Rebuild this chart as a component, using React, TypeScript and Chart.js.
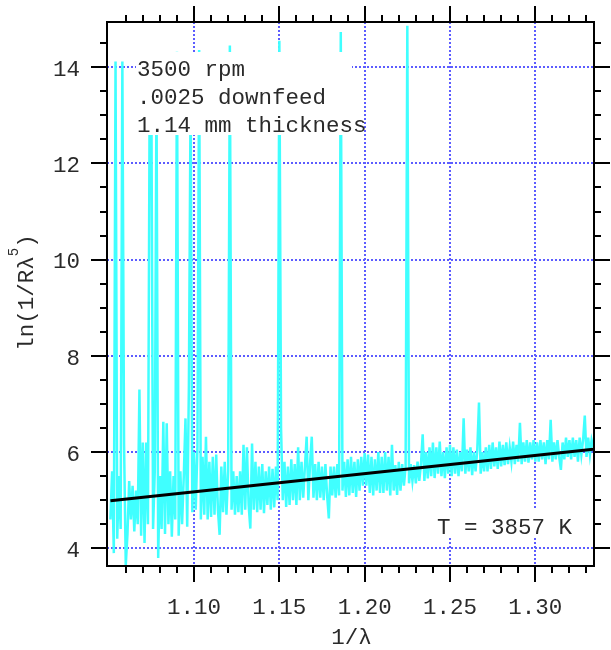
import React, { useEffect, useRef } from 'react';
import { Chart, registerables } from 'chart.js';

Chart.register(...registerables);

// ---- data ----
const X_START = 1.051;
const X_STEP = 0.001;
const signal: number[] = [
  4.6, 5.6, 3.9, 14.12, 4.2, 5.5, 4.4, 14.12, 6.15, 3.65,
  4.3, 5.4, 4.6, 5.3, 4.35, 5.2, 4.5, 7.3, 4.26, 6.2,
  4.11, 6.2, 4.5, 13.5, 13.5, 4.4, 5.6, 13.5, 3.8, 5.5,
  4.4, 6.63, 4.3, 6.6, 4.5, 5.6, 4.24, 5.5, 4.6, 14.32,
  4.26, 5.6, 4.5, 5.5, 6.7, 4.45, 7.4, 13.5, 4.75, 6.0,
  4.8, 6.1, 14.36, 4.6, 5.9, 4.7, 6.32, 4.6, 5.8, 4.65,
  5.9, 4.7, 5.95, 4.8, 4.28, 5.7, 4.75, 5.8, 4.7, 5.6,
  14.45, 4.8, 5.6, 4.7, 5.5, 4.75, 5.6, 4.7, 6.15, 4.8,
  6.1, 4.9, 4.41, 6.18, 4.8, 5.8, 4.75, 5.7, 4.8, 5.75,
  4.73, 5.6, 4.9, 5.7, 4.8, 5.65, 4.85, 5.7, 5.0, 14.55,
  6.5, 5.0, 5.8, 4.86, 5.7, 4.9, 5.85, 5.0, 5.75, 4.9,
  6.1, 5.0, 5.8, 5.05, 5.7, 6.32, 5.0, 5.75, 6.32, 5.05,
  5.75, 5.0, 5.8, 5.05, 5.7, 5.0, 5.75, 5.1, 4.62, 5.7,
  5.1, 5.7, 5.05, 5.75, 5.1, 14.73, 5.2, 5.8, 5.07, 5.85,
  5.1, 5.9, 5.15, 5.8, 5.07, 5.85, 5.2, 5.9, 5.3, 5.98,
  5.3, 5.95, 5.15, 5.9, 5.1, 5.85, 5.2, 6.0, 5.15, 5.9,
  5.15, 6.0, 5.2, 5.9, 5.1, 6.15, 5.2, 5.73, 5.11, 5.8,
  5.2, 5.75, 5.3, 5.7, 14.86, 5.35, 5.75, 5.4, 5.73, 5.35,
  5.8, 5.4, 5.75, 6.37, 5.4, 6.0, 5.45, 6.1, 5.5, 6.2,
  5.46, 6.1, 5.55, 6.22, 5.5, 6.0, 5.46, 6.1, 5.55, 6.15,
  5.5, 6.1, 5.55, 6.05, 5.5, 6.0, 5.6, 6.7, 5.55, 6.05,
  5.6, 6.1, 5.52, 6.0, 5.6, 6.05, 7.03, 5.55, 6.0, 5.6,
  6.1, 5.6, 6.15, 5.65, 6.2, 5.7, 6.1, 5.65, 6.22, 5.7,
  6.15, 5.73, 6.2, 5.75, 6.1, 5.8, 6.22, 5.75, 6.15, 5.8,
  6.61, 5.75, 6.2, 5.8, 6.25, 5.78, 6.2, 5.85, 6.25, 5.8,
  6.2, 5.8, 6.25, 5.85, 6.2, 5.75, 6.25, 5.85, 6.67, 5.8,
  6.2, 5.85, 6.25, 5.9, 5.63, 6.2, 5.85, 6.3, 5.9, 6.25,
  5.85, 6.3, 5.9, 6.25, 5.8, 6.3, 5.95, 6.25, 6.76, 5.9,
  6.3, 5.95, 6.25, 6.1,
];
const fitX = [1.051, 1.334];
const fitY = [4.99, 6.06];

const X_MIN = 1.049;
const X_MAX = 1.3344;
const Y_MIN = 3.632;
const Y_MAX = 14.94;

const xMajorTicks = [1.1, 1.15, 1.2, 1.25, 1.3];
const xTickLabels = ['1.10', '1.15', '1.20', '1.25', '1.30'];
const xMinorTicks = [1.06, 1.07, 1.08, 1.09, 1.11, 1.12, 1.13, 1.14, 1.16, 1.17, 1.18, 1.19,
  1.21, 1.22, 1.23, 1.24, 1.26, 1.27, 1.28, 1.29, 1.31, 1.32, 1.33];
const yMajorTicks = [4, 6, 8, 10, 12, 14];
const yTickLabels = ['4', '6', '8', '10', '12', '14'];
const yMinorTicks = [4.5, 5, 5.5, 6.5, 7, 7.5, 8.5, 9, 9.5, 10.5, 11, 11.5, 12.5, 13, 13.5, 14.5];

const notes = ['3500 rpm', '.0025 downfeed', '1.14 mm thickness'];
const tempNote = 'T = 3857 K';
const xTitle = '1/λ';
const yTitleMain = 'ln(1/Rλ';
const yTitleSup = '5';
const yTitleEnd = ')';

const FONT = '"Liberation Mono", "DejaVu Sans Mono", monospace';
const GRID_COLOR = '#5c5cff';
const CYAN = '#40ffff';
const TEXT_COLOR = '#2a2a2a';

const decor = {
  id: 'decor',
  beforeDatasetsDraw(chart: any) {
    const { ctx, chartArea: a, scales } = chart;
    const xs = scales.x, ys = scales.y;
    ctx.save();
    ctx.strokeStyle = GRID_COLOR;
    ctx.lineWidth = 2;
    ctx.setLineDash([2, 2]);
    ctx.beginPath();
    xMajorTicks.forEach((v) => {
      const px = Math.round(xs.getPixelForValue(v));
      ctx.moveTo(px, a.top);
      ctx.lineTo(px, a.bottom);
    });
    yMajorTicks.forEach((v) => {
      const py = Math.round(ys.getPixelForValue(v));
      ctx.moveTo(a.left, py);
      ctx.lineTo(a.right, py);
    });
    ctx.stroke();
    ctx.restore();
  },
  afterDatasetsDraw(chart: any) {
    const { ctx, chartArea: a, scales } = chart;
    const xs = scales.x, ys = scales.y;
    ctx.save();
    // annotation boxes
    ctx.fillStyle = '#ffffff';
    ctx.fillRect(136, 52, 216, 83);
    ctx.fillRect(432, 508, 150, 29);
    ctx.fillStyle = TEXT_COLOR;
    ctx.font = `22.5px ${FONT}`;
    ctx.textAlign = 'left';
    ctx.textBaseline = 'alphabetic';
    const baselines = [76, 104, 131.5];
    notes.forEach((t, i) => ctx.fillText(t, 137, baselines[i]));
    ctx.fillText(tempNote, 437, 533.5);

    // frame
    ctx.strokeStyle = '#000';
    ctx.lineWidth = 2;
    ctx.strokeRect(a.left, a.top, a.right - a.left, a.bottom - a.top);

    // ticks
    ctx.beginPath();
    const MAJ = 16, MIN = 7;
    xMajorTicks.forEach((v) => {
      const px = Math.round(xs.getPixelForValue(v));
      ctx.moveTo(px, a.bottom); ctx.lineTo(px, a.bottom + MAJ);
      ctx.moveTo(px, a.top); ctx.lineTo(px, a.top - MAJ);
    });
    xMinorTicks.forEach((v) => {
      const px = Math.round(xs.getPixelForValue(v));
      ctx.moveTo(px, a.bottom); ctx.lineTo(px, a.bottom + MIN);
      ctx.moveTo(px, a.top); ctx.lineTo(px, a.top - MIN);
    });
    yMajorTicks.forEach((v) => {
      const py = Math.round(ys.getPixelForValue(v));
      ctx.moveTo(a.left, py); ctx.lineTo(a.left - MAJ, py);
      ctx.moveTo(a.right, py); ctx.lineTo(a.right + MAJ, py);
    });
    yMinorTicks.forEach((v) => {
      const py = Math.round(ys.getPixelForValue(v));
      ctx.moveTo(a.left, py); ctx.lineTo(a.left - MIN, py);
      ctx.moveTo(a.right, py); ctx.lineTo(a.right + MIN, py);
    });
    ctx.stroke();

    // tick labels
    ctx.fillStyle = TEXT_COLOR;
    ctx.font = `22.5px ${FONT}`;
    ctx.textAlign = 'right';
    yMajorTicks.forEach((v, i) => {
      const py = ys.getPixelForValue(v);
      ctx.fillText(yTickLabels[i], 80, py + 8.7);
    });
    ctx.textAlign = 'center';
    xMajorTicks.forEach((v, i) => {
      const px = xs.getPixelForValue(v);
      ctx.fillText(xTickLabels[i], px, 614);
    });

    // x title
    ctx.fillText(xTitle, (a.left + a.right) / 2 + 1, 644);

    // y title (rotated)
    ctx.save();
    ctx.translate(33.3, 292.5);
    ctx.rotate(-Math.PI / 2);
    ctx.textAlign = 'left';
    ctx.font = `22.5px ${FONT}`;
    const w1 = ctx.measureText(yTitleMain).width;
    const w3 = ctx.measureText(yTitleEnd).width;
    ctx.font = `14px ${FONT}`;
    const w2 = ctx.measureText(yTitleSup).width;
    const total = w1 + w2 + w3;
    let sx = -total / 2;
    ctx.font = `22.5px ${FONT}`;
    ctx.fillText(yTitleMain, sx, 0);
    sx += w1;
    ctx.font = `14px ${FONT}`;
    ctx.fillText(yTitleSup, sx, -15);
    sx += w2;
    ctx.font = `22.5px ${FONT}`;
    ctx.fillText(yTitleEnd, sx, 0);
    ctx.restore();

    ctx.restore();
  },
};

export default function App() {
  const ref = useRef<HTMLCanvasElement | null>(null);
  useEffect(() => {
    if (!ref.current) return;
    const points = signal.map((v, i) => ({ x: X_START + i * X_STEP, y: v }));
    const fit = fitX.map((x, i) => ({ x, y: fitY[i] }));
    const chart = new Chart(ref.current, {
      type: 'scatter',
      data: {
        datasets: [
          {
            data: fit,
            showLine: true,
            borderColor: '#000',
            borderWidth: 3,
            pointRadius: 0,
            order: 0,
          },
          {
            data: points,
            showLine: true,
            borderColor: CYAN,
            borderWidth: 2.5,
            pointRadius: 0,
            order: 1,
          },
        ],
      },
      options: {
        animation: false,
        responsive: false,
        devicePixelRatio: 1,
        layout: { padding: { left: 107, top: 22, right: 17, bottom: 84 } },
        plugins: { legend: { display: false }, tooltip: { enabled: false } },
        scales: {
          x: { type: 'linear', min: X_MIN, max: X_MAX, display: false },
          y: { type: 'linear', min: Y_MIN, max: Y_MAX, display: false },
        },
      },
      plugins: [decor],
    });
    return () => chart.destroy();
  }, []);
  return (
    <div style={{ position: 'absolute', left: 0, top: 0, width: 611, height: 650, background: '#fff' }}>
      <canvas ref={ref} width={611} height={650} />
    </div>
  );
}
